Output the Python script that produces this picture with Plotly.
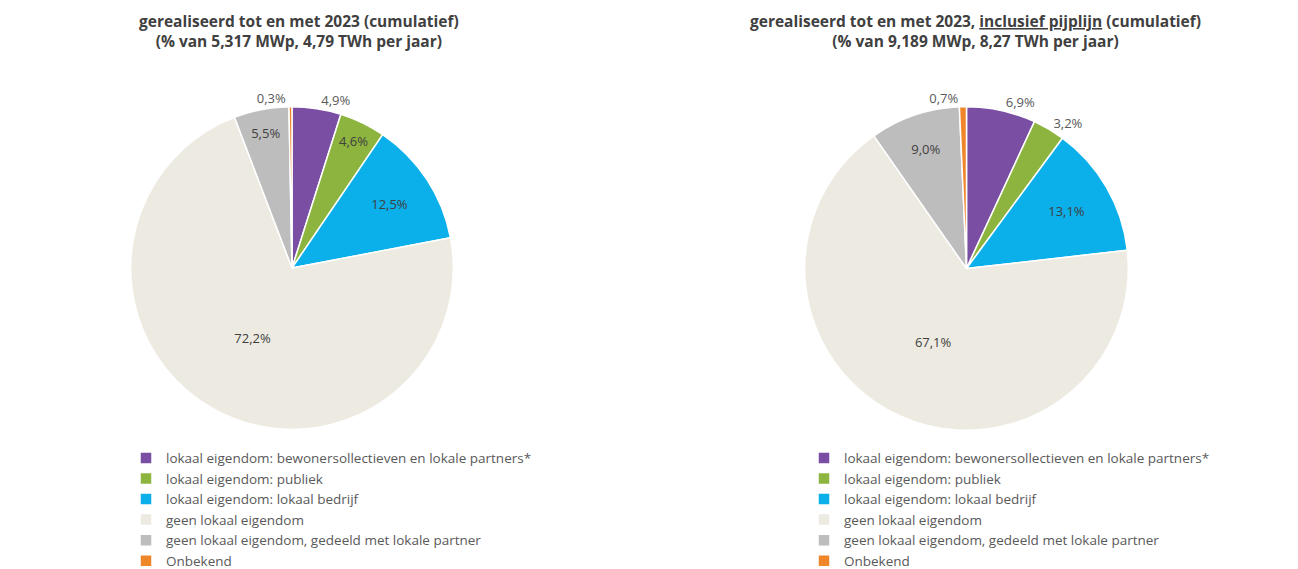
import plotly.graph_objects as go

categories = [
    "lokaal eigendom: bewonersollectieven en lokale partners*",
    "lokaal eigendom: publiek",
    "lokaal eigendom: lokaal bedrijf",
    "geen lokaal eigendom",
    "geen lokaal eigendom, gedeeld met lokale partner",
    "Onbekend",
]
colors = ["#7A4FA3", "#8CB43E", "#0BAFEA", "#EDEBE1", "#BDBDBD", "#F0862A"]

realised = [4.9, 4.6, 12.5, 72.2, 5.5, 0.3]
with_pipeline = [6.9, 3.2, 13.1, 67.1, 9.0, 0.7]

left_pos = ["outside", "inside", "inside", "inside", "inside", "outside"]
right_pos = ["outside", "outside", "inside", "inside", "inside", "outside"]

title_left = "<b>gerealiseerd tot en met 2023 (cumulatief)<br>(% van 5,317 MWp, 4,79 TWh per jaar)</b>"
title_right = ("<b>gerealiseerd tot en met 2023, <span style='text-decoration:underline'>inclusief pijplijn</span>"
               " (cumulatief)<br>(% van 9,189 MWp, 8,27 TWh per jaar)</b>")

W, H = 1298, 569


def pct(vals):
    return [f"{v:.1f}%".replace(".", ",") for v in vals]


fig = go.Figure()
# second pie gets invisible suffix so both legends list every category
for vals, pos, dom, leg, suffix in [
    (realised, left_pos, dict(x=[114 / W, 454 / W], y=[1 - 444 / H, 1 - 104 / H]), "legend", ""),
    (with_pipeline, right_pos, dict(x=[788 / W, 1129 / W], y=[1 - 445 / H, 1 - 104 / H]), "legend2", "\u200b"),
]:
    fig.add_trace(go.Pie(
        labels=[c + suffix for c in categories],
        values=vals,
        text=pct(vals),
        textinfo="text",
        textposition=pos,
        insidetextorientation="horizontal",
        textfont=dict(size=13, color="#404040"),
        outsidetextfont=dict(size=13, color="#595959"),
        sort=False,
        direction="clockwise",
        rotation=0,
        marker=dict(colors=colors, line=dict(color="white", width=1.5)),
        domain=dom,
        legend=leg,
        hoverinfo="label+percent",
    ))

for x, txt in [(291 / W, title_left), (967 / W, title_right)]:
    fig.add_annotation(x=x, y=1, xref="paper", yref="paper", xanchor="center", yanchor="top",
                       text=txt, showarrow=False, font=dict(size=15.5, color="#404040"))

leg_style = dict(font=dict(size=13.5, color="#595959", family="Open Sans"), bgcolor="rgba(0,0,0,0)",
                 yanchor="top", xanchor="left", tracegroupgap=0, itemclick=False)
fig.update_layout(
    width=W, height=H,
    margin=dict(l=0, r=0, t=0, b=0),
    paper_bgcolor="white",
    font=dict(family="Open Sans", color="#404040"),
    showlegend=True,
    legend=dict(x=118 / W, y=1 - 458 / H, **leg_style),
    legend2=dict(x=796 / W, y=1 - 458 / H, **leg_style),
)

fig.write_html("out.html")
